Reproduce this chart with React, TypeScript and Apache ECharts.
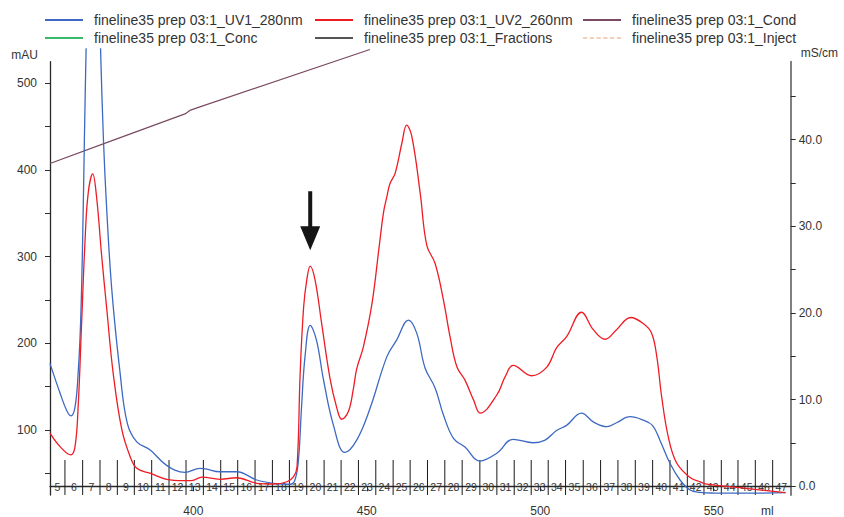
import { useEffect, useRef } from "react";
import * as echarts from "echarts";

// Run "fineline35 prep 03:1" – UV traces (mAU), conductivity (mS/cm) and fraction marks over elution volume (ml)

const X_MIN = 358.69;
const X_MAX = 572.2;
const UV_MIN = 25;
const UV_MAX = 525;
const COND_MIN = -1;
const COND_MAX = 49;

const NAME_UV1 = "fineline35 prep 03:1_UV1_280nm";
const NAME_UV2 = "fineline35 prep 03:1_UV2_260nm";
const NAME_COND = "fineline35 prep 03:1_Cond";
const NAME_CONC = "fineline35 prep 03:1_Conc";
const NAME_FRAC = "fineline35 prep 03:1_Fractions";
const NAME_INJECT = "fineline35 prep 03:1_Inject";

// [ml, mAU]
const uv1_280nm: [number, number][] = [
  [358.69, 178], [361.6, 144], [363.5, 124], [364.7, 118], [365.9, 128], [366.8, 167],
  [367.5, 224], [368.1, 320], [368.6, 435], [369.2, 560], [370.0, 700], [371.0, 780],
  [372.2, 700], [373.3, 535], [374.1, 435], [375.0, 358], [376.5, 263], [378.9, 167],
  [381.0, 109], [383.7, 88], [387.5, 79], [392.3, 61], [397.6, 53], [401.9, 57.6],
  [403.5, 57], [407.7, 53.7], [412.5, 53.7], [418.3, 44.2], [423.1, 40.4], [428.0, 39.3],
  [429.3, 44.2], [430.3, 67], [431.2, 128], [432.2, 186], [433.7, 222], [435.5, 205],
  [437.5, 160], [440.4, 107], [443.7, 76], [447.1, 90], [450.9, 126], [455.8, 186],
  [458.6, 205], [462.0, 228], [464.4, 213], [466.8, 173], [469.7, 150], [472.1, 119],
  [475.0, 92], [478.3, 82], [482.6, 66], [487.5, 75], [492.2, 91], [498.0, 87],
  [501.4, 90], [504.7, 101], [507.6, 107], [511.9, 121], [515.3, 111], [519.2, 105.5],
  [522.0, 110], [525.9, 117], [529.7, 113], [532.4, 106.6], [534.5, 90], [537.4, 63.4],
  [540.3, 44.2], [543.2, 32.7], [546.1, 30.0], [550.0, 29.2], [560.0, 29.0], [570.8, 29.6],
];

// [ml, mAU]
const uv2_260nm: [number, number][] = [
  [358.69, 98], [361.6, 82.5], [364.7, 73], [365.9, 82.5], [366.8, 128], [367.8, 224],
  [368.8, 320], [369.7, 374], [371.0, 396], [372.1, 370], [373.6, 301], [375.0, 243],
  [376.9, 167], [379.4, 102], [381.8, 71], [383.7, 57.6], [387.5, 52], [392.3, 45],
  [397.1, 43.4], [399.5, 43.5], [402.5, 47.5], [407.7, 45], [412.5, 46.8], [418.3, 40.4],
  [423.1, 39.6], [427.0, 42.2], [428.9, 48], [429.9, 59.5], [430.8, 167], [431.8, 243],
  [432.7, 274], [433.7, 290], [435.1, 274], [437.0, 224], [439.4, 161], [441.3, 128],
  [442.8, 114], [444.7, 123], [446.1, 148], [447.1, 172], [449.0, 197], [451.5, 247],
  [453.5, 310], [454.8, 351], [455.8, 370], [456.7, 385], [458.2, 397], [460.1, 431],
  [461.5, 452], [463.0, 439], [465.4, 374], [467.3, 314], [469.7, 293], [472.1, 251],
  [474.0, 209], [476.0, 174], [478.3, 159], [480.8, 136], [482.7, 121], [487.5, 142],
  [489.9, 163], [492.2, 176], [497.5, 164], [501.9, 174], [504.7, 196], [507.6, 209],
  [511.9, 237], [515.3, 217], [518.7, 206], [522.0, 217], [526.1, 231], [529.7, 224],
  [532.1, 213], [533.6, 186], [535.0, 140], [536.9, 94], [539.3, 64], [543.2, 47],
  [546.1, 42], [548.0, 39.5], [557.6, 35.4], [570.6, 29.6],
];

// [ml, mS/cm]
const conductivity: [number, number][] = [
  [358.69, 37.3], [375.0, 39.7], [397.6, 43.0], [399.0, 43.4], [401.9, 43.8], [450.9, 50.4],
];

// Fraction numbers and their start volumes (ml)
const fractionLabels = [
  5, 6, 7, 8, 9, 10, 11, 12, 13, 14, 15, 16, 17, 18, 19, 20, 21, 22, 23, 24, 25, 26,
  27, 28, 29, 30, 31, 32, 33, 34, 35, 36, 37, 38, 39, 40, 41, 42, 43, 44, 45, 46, 47,
];
const fractionStarts = [
  358.0, 363.0, 368.1, 373.1, 378.1, 383.0, 388.0, 393.0, 397.9, 402.9, 407.9, 412.8,
  417.8, 422.8, 427.7, 432.7, 437.7, 442.6, 447.6, 452.6, 457.6, 462.5, 467.5, 472.5,
  477.5, 482.6, 487.5, 492.5, 497.4, 502.3, 507.3, 512.4, 517.4, 522.4, 527.4, 532.4,
  537.4, 542.4, 547.2, 552.2, 557.0, 562.0, 567.0,
];
const lastFractionEnd = 572.0;

// Volume of the peak marked with the arrow
const ARROW_ML = 433.7;

const uvTicks = [50, 100, 150, 200, 250, 300, 350, 400, 450, 500];
const uvLabels = [100, 200, 300, 400, 500];
const condTicks = [0, 5, 10, 15, 20, 25, 30, 35, 40, 45];
const condLabels = [0, 10, 20, 30, 40];
const volumeTicks = [400, 450, 500, 550];

const FONT = "'Liberation Sans', Arial, Helvetica, sans-serif";

// plot frame (px)
const W = 844;
const H = 517;
const PLOT_LEFT = 50;
const PLOT_RIGHT = 790.7;
const AXIS_TOP = 61.7;
const CLIP_TOP = 49;
const PLOT_BOTTOM = 496.7;

const LINE_ICON = "rect";
const DASH_ICON =
  "path://M0 0h4v1h-4z M6.4 0h4v1h-4z M12.8 0h4v1h-4z M19.2 0h4v1h-4z M25.6 0h4v1h-4z M32 0h4v1h-4z";

export default function App() {
  const ref = useRef<HTMLDivElement>(null);

  useEffect(() => {
    if (!ref.current) return;
    const chart = echarts.init(ref.current, undefined, { renderer: "svg" });

    const pxPerUv = (PLOT_BOTTOM - AXIS_TOP) / (UV_MAX - UV_MIN);
    const pxPerCond = (PLOT_BOTTOM - AXIS_TOP) / (COND_MAX - COND_MIN);
    const uvMaxClip = UV_MIN + (PLOT_BOTTOM - CLIP_TOP) / pxPerUv;
    const condMaxClip = COND_MIN + (PLOT_BOTTOM - CLIP_TOP) / pxPerCond;

    const fractionData = fractionStarts.map((s, i) => [
      s,
      i + 1 < fractionStarts.length ? fractionStarts[i + 1] : lastFractionEnd,
      fractionLabels[i],
    ]);

    // arrow sits above the UV2 maximum near ARROW_ML
    let peak = uv2_260nm[0];
    for (const p of uv2_260nm) {
      if (Math.abs(p[0] - ARROW_ML) < 3 && p[1] > peak[1]) peak = p;
    }
    if (Math.abs(peak[0] - ARROW_ML) >= 3) peak = [ARROW_ML, 0];

    const axisLineDark = { show: true, lineStyle: { color: "#2a2a2a", width: 1.3 } };
    const labelStyle = { color: "#333", fontSize: 12, fontFamily: FONT };

    const legendItem = (name: string, left: number, top: number, icon: string) => ({
      data: [{ name, icon }],
      left,
      top,
      padding: 0,
      itemWidth: 38,
      itemHeight: 1.8,
      selectedMode: false,
      textStyle: {
        color: "#333",
        fontSize: 14,
        lineHeight: 14,
        fontFamily: FONT,
        padding: [0, 0, 0, 6],
      },
    });

    const option: any = {
      animation: false,
      backgroundColor: "#fff",
      textStyle: { fontFamily: FONT },
      legend: [
        legendItem(NAME_UV1, 45, 13, LINE_ICON),
        legendItem(NAME_UV2, 315, 13, LINE_ICON),
        legendItem(NAME_COND, 583, 13, LINE_ICON),
        legendItem(NAME_CONC, 45, 31, LINE_ICON),
        legendItem(NAME_FRAC, 315, 31, LINE_ICON),
        legendItem(NAME_INJECT, 583, 31, DASH_ICON),
      ],
      grid: [
        {
          left: PLOT_LEFT,
          right: W - PLOT_RIGHT,
          top: AXIS_TOP,
          bottom: H - PLOT_BOTTOM,
          containLabel: false,
        },
        {
          left: PLOT_LEFT,
          right: W - PLOT_RIGHT,
          top: CLIP_TOP,
          bottom: H - PLOT_BOTTOM,
          containLabel: false,
        },
      ],
      xAxis: [
        {
          type: "value",
          gridIndex: 0,
          min: X_MIN,
          max: X_MAX,
          axisLine: axisLineDark,
          axisTick: { show: true, length: 5, customValues: volumeTicks, lineStyle: { color: "#2a2a2a" } },
          axisLabel: { ...labelStyle, margin: 10, customValues: volumeTicks },
          splitLine: { show: false },
        },
        { type: "value", gridIndex: 1, min: X_MIN, max: X_MAX, show: false },
      ],
      yAxis: [
        {
          type: "value",
          gridIndex: 0,
          position: "left",
          min: UV_MIN,
          max: UV_MAX,
          name: "mAU",
          nameLocation: "end",
          nameGap: 7,
          nameTextStyle: { ...labelStyle, align: "right", verticalAlign: "middle", padding: [0, 12, 0, 0] },
          axisLine: axisLineDark,
          axisTick: { show: true, length: 5, customValues: uvTicks, lineStyle: { color: "#2a2a2a" } },
          axisLabel: { ...labelStyle, margin: 13, customValues: uvLabels },
          splitLine: { show: false },
        },
        {
          type: "value",
          gridIndex: 0,
          position: "right",
          min: COND_MIN,
          max: COND_MAX,
          name: "mS/cm",
          nameLocation: "end",
          nameGap: 9,
          nameTextStyle: { ...labelStyle, align: "left", verticalAlign: "middle", padding: [0, 0, 0, 10] },
          axisLine: { show: true, lineStyle: { color: "#808080", width: 2 } },
          axisTick: { show: true, length: 5, customValues: condTicks, lineStyle: { color: "#2a2a2a" } },
          axisLabel: {
            ...labelStyle,
            margin: 8,
            customValues: condLabels,
            formatter: (v: number) => v.toFixed(1),
          },
          splitLine: { show: false },
        },
        { type: "value", gridIndex: 1, min: UV_MIN, max: uvMaxClip, show: false },
        { type: "value", gridIndex: 1, min: COND_MIN, max: condMaxClip, show: false, position: "right" },
      ],
      series: [
        {
          type: "custom",
          name: "fractionMarks",
          xAxisIndex: 0,
          yAxisIndex: 0,
          silent: true,
          z: 1,
          data: fractionData,
          renderItem: (params: any, api: any) => {
            const start = api.value(0);
            const end = api.value(1);
            const lo = Math.max(start, X_MIN);
            const hi = Math.min(end, X_MAX);
            const a = api.coord([lo, UV_MIN]);
            const b = api.coord([hi, UV_MIN]);
            const children: any[] = [];
            if (start >= X_MIN) {
              children.push({
                type: "line",
                shape: { x1: a[0], y1: a[1] - 35, x2: a[0], y2: a[1] },
                style: { stroke: "#1a1a1a", lineWidth: 1 },
              });
            }
            children.push({
              type: "text",
              style: {
                text: String(fractionLabels[params.dataIndex]),
                x: (a[0] + b[0]) / 2,
                y: a[1] - 8,
                align: "center",
                verticalAlign: "middle",
                fontSize: 10.5,
                fontFamily: FONT,
                fill: "#333",
              },
            });
            return { type: "group", children };
          },
        },
        {
          type: "line",
          name: NAME_COND,
          xAxisIndex: 1,
          yAxisIndex: 3,
          data: conductivity,
          symbol: "none",
          smooth: false,
          lineStyle: { color: "#7a4a62", width: 1.2 },
          itemStyle: { color: "#7a4a62" },
          z: 3,
        },
        {
          type: "line",
          name: NAME_UV1,
          xAxisIndex: 1,
          yAxisIndex: 2,
          data: uv1_280nm,
          symbol: "none",
          smooth: 0.4,
          lineStyle: { color: "#3d69c2", width: 1.3 },
          itemStyle: { color: "#3d69c2" },
          z: 4,
        },
        {
          type: "line",
          name: NAME_UV2,
          xAxisIndex: 1,
          yAxisIndex: 2,
          data: uv2_260nm,
          symbol: "none",
          smooth: 0.4,
          lineStyle: { color: "#ee1c24", width: 1.3 },
          itemStyle: { color: "#ee1c24" },
          z: 5,
          markPoint: {
            silent: true,
            symbol: "path://M8 0 H12 V35 H20 L10 59 L0 35 H8 Z",
            symbolSize: [20, 59],
            symbolKeepAspect: false,
            symbolOffset: [0, -(59 / 2 + 16)],
            itemStyle: { color: "#151515" },
            label: { show: false },
            data: [{ coord: [peak[0], peak[1]] }],
          },
        },
        {
          type: "line",
          name: NAME_CONC,
          xAxisIndex: 1,
          yAxisIndex: 2,
          data: [],
          symbol: "none",
          lineStyle: { color: "#3cb96b", width: 1.3 },
          itemStyle: { color: "#3cb96b" },
        },
        {
          type: "line",
          name: NAME_FRAC,
          xAxisIndex: 1,
          yAxisIndex: 2,
          data: [],
          symbol: "none",
          lineStyle: { color: "#555555", width: 1.3 },
          itemStyle: { color: "#555555" },
        },
        {
          type: "line",
          name: NAME_INJECT,
          xAxisIndex: 1,
          yAxisIndex: 2,
          data: [],
          symbol: "none",
          lineStyle: { color: "#e6a274", width: 1.3, type: [4, 3] },
          itemStyle: { color: "#e6a274" },
        },
      ],
      graphic: [
        {
          type: "text",
          left: 761,
          top: 505,
          style: { text: "ml", fontSize: 12, lineHeight: 12, fontFamily: FONT, fill: "#333" },
        },
      ],
    };

    chart.setOption(option);
    return () => chart.dispose();
  }, []);

  return (
    <div
      ref={ref}
      style={{ position: "fixed", left: 0, top: 0, width: W, height: H, background: "#fff" }}
    />
  );
}
